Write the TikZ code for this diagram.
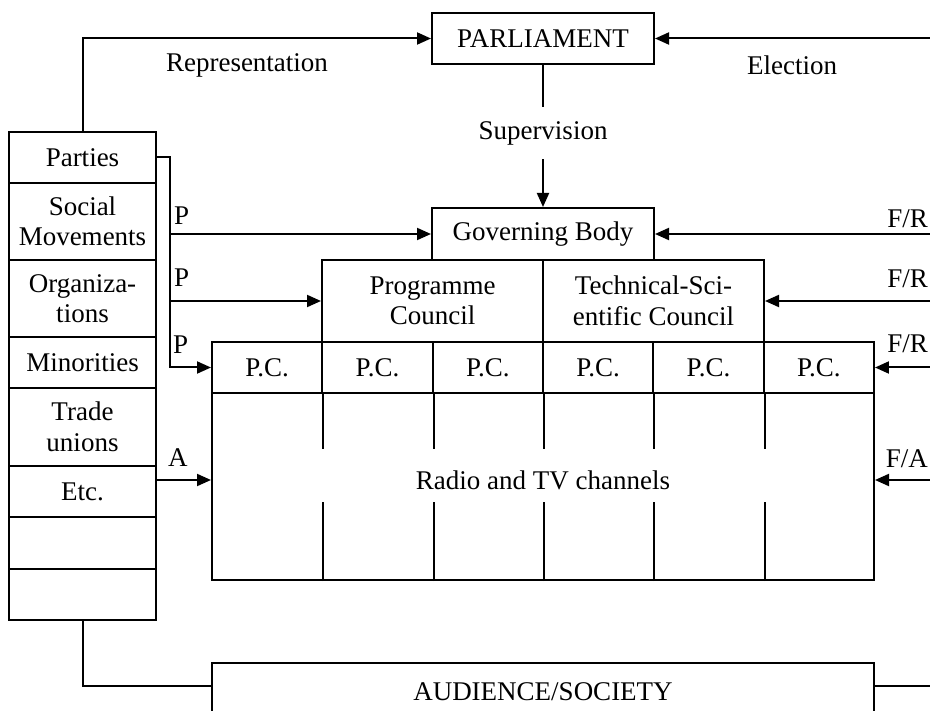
\documentclass[tikz,border=0pt]{standalone}
\usepackage{fontspec}
\setmainfont{Liberation Serif}
\usetikzlibrary{arrows.meta}
\tikzset{
  box/.style={draw,rectangle,line width=2pt,inner sep=0pt,align=center},
  lbl/.style={inner sep=3pt},
  arr/.style={-{Triangle[length=14pt,width=12pt]},line width=2pt},
  ln/.style={line width=2pt},
}

\begin{document}
\begin{tikzpicture}[x=1pt,y=-1pt,font=\fontsize{27}{30.5}\selectfont]
\useasboundingbox (0,0) rectangle (930,711);
\clip (0,0) rectangle (930,711);

% top
\node[box,minimum width=222pt,minimum height=51pt] (parl) at (543,38.5) {PARLIAMENT};
\node[lbl,minimum height=52pt] (sup) at (543,133) {Supervision};
\node[box,minimum width=222pt,minimum height=52pt] (gov) at (543,234) {Governing Body};
\node[box,minimum width=221pt,minimum height=82pt] (prog) at (432.5,301) {Programme\\Council};
\node[box,minimum width=221pt,minimum height=82pt] (tech) at (653.5,301) {Technical-Sci-\\entific Council};
\node[lbl] (rep) at (247,65) {Representation};
\node[lbl] (elec) at (792,65) {Election};

% channels
\foreach \i in {1,...,6}
  \node[box,minimum width=110.33pt,minimum height=51pt] (pc\i) at ({212+110.33*(\i-0.5)},367.5) {P.C.};
\node[box,minimum width=662pt,minimum height=187pt] (radio) at (543,486.5) {};
\coordinate (mid) at (543,480);
\node[lbl] (radiolbl) at (mid) {Radio and TV channels};
\foreach \i in {1,...,5} {
  \draw[ln] (pc\i.south east) -- ++(0,55);
  \draw[ln] (pc\i.south east |- radio.south) -- ++(0,-79);
}
\node[box,minimum width=662pt,minimum height=57pt] (aud) at (543,691.5) {AUDIENCE/SOCIETY};

% groups
\node[box,minimum width=147pt,minimum height=51pt] (c1) at (82.5,157.5) {Parties};
\node[box,minimum width=147pt,minimum height=77pt] (c2) at (82.5,221.5) {Social\\Movements};
\node[box,minimum width=147pt,minimum height=77pt] (c3) at (82.5,298.5) {Organiza-\\tions};
\node[box,minimum width=147pt,minimum height=51pt] (c4) at (82.5,362.5) {Minorities};
\node[box,minimum width=147pt,minimum height=78pt] (c5) at (82.5,427) {Trade\\unions};
\node[box,minimum width=147pt,minimum height=51pt] (c6) at (82.5,491.5) {Etc.};
\node[box,minimum width=147pt,minimum height=52pt] (c7) at (82.5,543) {};
\node[box,minimum width=147pt,minimum height=51pt] (c8) at (82.5,594.5) {};

% connectors
\coordinate (bus) at ([xshift=13pt]c1.east);
\coordinate (edge) at (945,0);
\coordinate (edgelbl) at (931,0);
\coordinate (aline) at (0,686);
\draw[arr] (c1.north) |- (parl.west);
\draw[arr] (edge |- parl.east) -- (parl.east);
\draw[ln] (parl.south) -- (sup.north);
\draw[arr] (sup.south) -- (gov.north);
\draw[arr] (c1.east) -- (bus) |- (pc1.west);
\draw[arr] (bus |- gov.west) node[lbl,anchor=south west,yshift=5pt] {P} -- (gov.west);
\draw[arr] (bus |- prog.west) node[lbl,anchor=south west,yshift=10pt] {P} -- (prog.west);
\node[lbl,anchor=south west,yshift=11pt] at (bus |- pc1.west) {P};
\draw[arr] (c6.east |- mid) node[lbl,anchor=south west,xshift=7pt,yshift=9pt] {A} -- (radio.west |- mid);
\draw[arr] (edge |- gov.east) -- (gov.east);
\draw[arr] (edge |- tech.east) -- (tech.east);
\draw[arr] (edge |- pc6.east) -- (pc6.east);
\draw[arr] (edge |- mid) -- (radio.east |- mid);
\node[lbl,anchor=south east,yshift=3pt] at (edgelbl |- gov.east) {F/R};
\node[lbl,anchor=south east,yshift=10pt] at (edgelbl |- tech.east) {F/R};
\node[lbl,anchor=south east,yshift=12pt] at (edgelbl |- pc6.east) {F/R};
\node[lbl,anchor=south east,yshift=9pt] at (edgelbl |- mid) {F/A};
\draw[ln] (c8.south) |- (aud.west |- aline);
\draw[ln] (aud.east |- aline) -- (edge |- aline);
\end{tikzpicture}
\end{document}
